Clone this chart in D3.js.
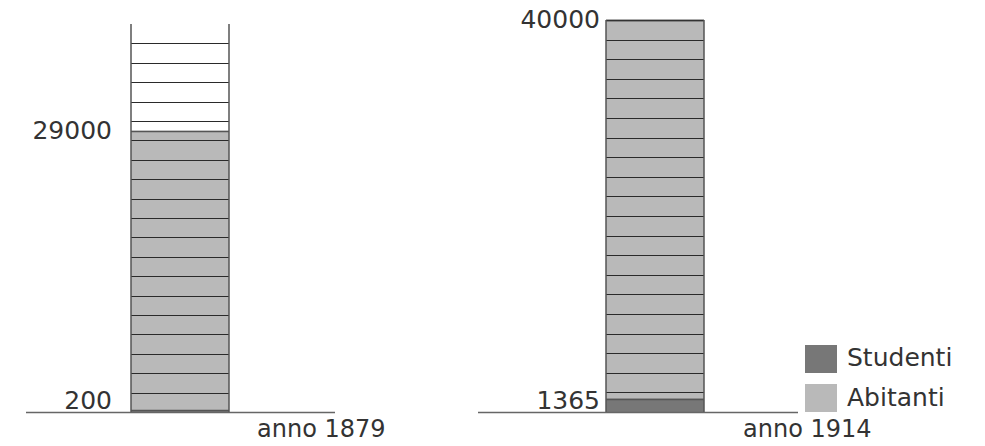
<!DOCTYPE html>
<html><head><meta charset="utf-8">
<script src="https://cdn.jsdelivr.net/npm/d3@7"></script>
<style>
html,body{margin:0;padding:0;background:#fff;}
text{font-family:"DejaVu Sans",sans-serif;fill:#333;}
</style></head>
<body><svg id="c" width="985" height="446"></svg>
<script>
const years = ["anno 1879", "anno 1914"];
const abitanti = [29000, 40000];
const studenti = [200, 1365];
const scaleMax = 40000;
const gridStep = 2000;
const seriesNames = ["Studenti", "Abitanti"];
const seriesColors = ["#777777", "#b9b9b9"];

const svg = d3.select("#c");
const baseY = 412;
const panels = [
  {x0: 131, top: 24, lineX: [26, 335], labelX: 257, valueRight: 112, showTop: false},
  {x0: 606, top: 20, lineX: [478, 798], labelX: 743, valueRight: 600, showTop: true}
];
const barW = 98;

panels.forEach((p, i) => {
  const y = d3.scaleLinear().domain([0, scaleMax]).range([baseY, p.top]);
  const g = svg.append("g");
  g.append("rect").attr("x", p.x0).attr("y", y(scaleMax)).attr("width", barW)
    .attr("height", y(abitanti[i]) - y(scaleMax)).attr("fill", "#fff");
  g.append("rect").attr("x", p.x0).attr("y", y(abitanti[i])).attr("width", barW)
    .attr("height", baseY - y(abitanti[i])).attr("fill", seriesColors[1]);
  g.append("rect").attr("x", p.x0).attr("y", y(studenti[i])).attr("width", barW)
    .attr("height", baseY - y(studenti[i])).attr("fill", seriesColors[0]);
  const ticks = d3.range(gridStep, scaleMax, gridStep);
  g.selectAll("line.grid").data(ticks).enter().append("line")
    .attr("x1", p.x0).attr("x2", p.x0 + barW)
    .attr("y1", d => Math.round(y(d)) + 0.5).attr("y2", d => Math.round(y(d)) + 0.5)
    .attr("stroke", "#2a2a2a").attr("stroke-width", 1);
  [abitanti[i], studenti[i]].forEach(v => {
    g.append("line").attr("x1", p.x0).attr("x2", p.x0 + barW)
      .attr("y1", Math.round(y(v)) + 0.5).attr("y2", Math.round(y(v)) + 0.5)
      .attr("stroke", "#555").attr("stroke-width", 1.5);
  });
  if (p.showTop) {
    g.append("line").attr("x1", p.x0).attr("x2", p.x0 + barW)
      .attr("y1", Math.round(y(scaleMax)) + 0.5).attr("y2", Math.round(y(scaleMax)) + 0.5)
      .attr("stroke", "#333").attr("stroke-width", 1.5);
  }
  [p.x0, p.x0 + barW].forEach(x => {
    g.append("line").attr("x1", x).attr("x2", x).attr("y1", y(scaleMax)).attr("y2", baseY)
      .attr("stroke", "#555").attr("stroke-width", 1.5);
  });
  g.append("line").attr("x1", p.lineX[0]).attr("x2", p.lineX[1])
    .attr("y1", baseY + 0.5).attr("y2", baseY + 0.5).attr("stroke", "#666").attr("stroke-width", 1.5);
  const topVal = p.showTop ? scaleMax : abitanti[i];
  g.append("text").attr("x", p.valueRight).attr("y", y(topVal) + 8).attr("text-anchor", "end")
    .attr("font-size", 25).text(d3.format("d")(topVal));
  g.append("text").attr("x", p.valueRight).attr("y", baseY - 3).attr("text-anchor", "end")
    .attr("font-size", 25).text(d3.format("d")(studenti[i]));
  g.append("text").attr("x", p.labelX).attr("y", 437).attr("font-size", 24).text(years[i]);
});

const lg = svg.append("g");
seriesNames.forEach((n, k) => {
  lg.append("rect").attr("x", 805).attr("y", 345 + k * 39).attr("width", 32).attr("height", 28)
    .attr("fill", seriesColors[k]);
  lg.append("text").attr("x", 847).attr("y", 366 + k * 40).attr("font-size", 25).text(n);
});
</script></body></html>
